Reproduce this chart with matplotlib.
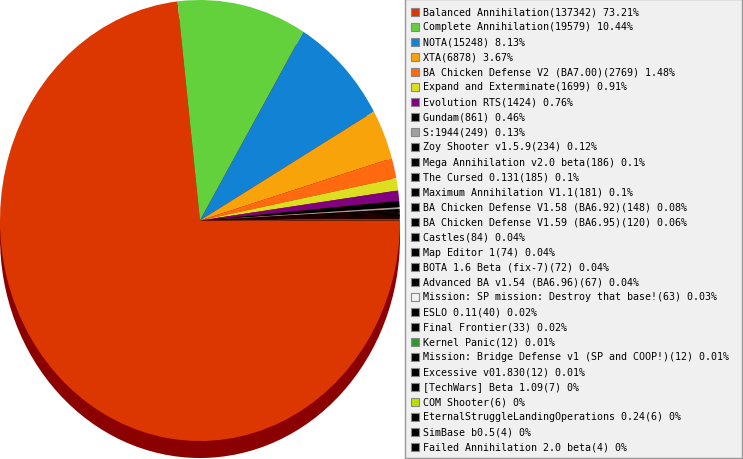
import matplotlib
matplotlib.use("Agg")
import matplotlib.pyplot as plt
from matplotlib.patches import Ellipse, Rectangle

names = [
    "Balanced Annihilation", "Complete Annihilation", "NOTA", "XTA",
    "BA Chicken Defense V2 (BA7.00)", "Expand and Exterminate", "Evolution RTS",
    "Gundam", "S:1944", "Zoy Shooter v1.5.9", "Mega Annihilation v2.0 beta",
    "The Cursed 0.131", "Maximum Annihilation V1.1",
    "BA Chicken Defense V1.58 (BA6.92)", "BA Chicken Defense V1.59 (BA6.95)",
    "Castles", "Map Editor 1", "BOTA 1.6 Beta (fix-7)", "Advanced BA v1.54 (BA6.96)",
    "Mission: SP mission: Destroy that base!", "ESLO 0.11", "Final Frontier",
    "Kernel Panic", "Mission: Bridge Defense v1 (SP and COOP!)", "Excessive v01.830",
    "[TechWars] Beta 1.09", "COM Shooter", "EternalStruggleLandingOperations 0.24",
    "SimBase b0.5", "Failed Annihilation 2.0 beta",
]
counts = [137342, 19579, 15248, 6878, 2769, 1699, 1424, 861, 249, 234, 186, 185,
          181, 148, 120, 84, 74, 72, 67, 63, 40, 33, 12, 12, 12, 7, 6, 6, 4, 4]
percents = ["73.21%", "10.44%", "8.13%", "3.67%", "1.48%", "0.91%", "0.76%",
            "0.46%", "0.13%", "0.12%", "0.1%", "0.1%", "0.1%", "0.08%", "0.06%",
            "0.04%", "0.04%", "0.04%", "0.04%", "0.03%", "0.02%", "0.02%", "0.01%",
            "0.01%", "0.01%", "0%", "0%", "0%", "0%", "0%"]
colors = ["#DC3700", "#62D13C", "#1283D4", "#F9A30B", "#FF6A10", "#DDDD22",
          "#800080", "#000000", "#A0A0A0", "#000000", "#000000", "#000000",
          "#000000", "#000000", "#000000", "#000000", "#000000", "#000000",
          "#000000", "#F2F2F2", "#000000", "#000000", "#2E9A2E", "#000000",
          "#000000", "#000000", "#B8E000", "#000000", "#000000", "#000000"]

W, H = 743, 460
fig = plt.figure(figsize=(W / 100, H / 100), dpi=100)
fig.patch.set_facecolor("white")

# Pie axes (pixel box x 0..400, y 0..460)
ax = fig.add_axes([0 / W, 0, 400 / W, 1])
ry_px = 220.5
cy_px = 221.5
depth = 17 / ry_px
ax.set_xlim(-1, 1)
ax.set_ylim((cy_px - H) / ry_px, cy_px / ry_px)
ax.set_aspect("auto")
ax.axis("off")

ax.add_patch(Ellipse((0, -depth), 2, 2, facecolor="#8B0000", edgecolor="none", zorder=0))
ax.pie(counts, colors=colors, startangle=0, counterclock=False, radius=1,
       center=(0, 0), frame=True, wedgeprops=dict(linewidth=0, antialiased=True))
ax.set_xlim(-1, 1)
ax.set_ylim((cy_px - H) / ry_px, cy_px / ry_px)
ax.set_aspect("auto")
ax.axis("off")

# Legend axes (pixel box x 405..742, y 0..459)
lx0, lx1, ly0, ly1 = 405, 742, 0, 459
lax = fig.add_axes([lx0 / W, (H - ly1) / H, (lx1 - lx0) / W, (ly1 - ly0) / H])
lax.set_xlim(0, lx1 - lx0)
lax.set_ylim(ly1 - ly0, 0)
lax.set_xticks([])
lax.set_yticks([])
lax.set_facecolor("#F0F0F0")
for s in lax.spines.values():
    s.set_color("#999999")
    s.set_linewidth(1)

for i, (n, c, p, col) in enumerate(zip(names, counts, percents, colors)):
    yc = 12.5 + 15 * i
    lax.add_patch(Rectangle((5.5, yc - 4), 8, 8, facecolor=col, edgecolor="#888888", linewidth=0.8))
    lax.text(18, yc, f"{n}({c}) {p}", fontsize=7.2, family="DejaVu Sans Mono",
             va="center", ha="left", color="#000000")

fig.savefig("out.png", dpi=100)
